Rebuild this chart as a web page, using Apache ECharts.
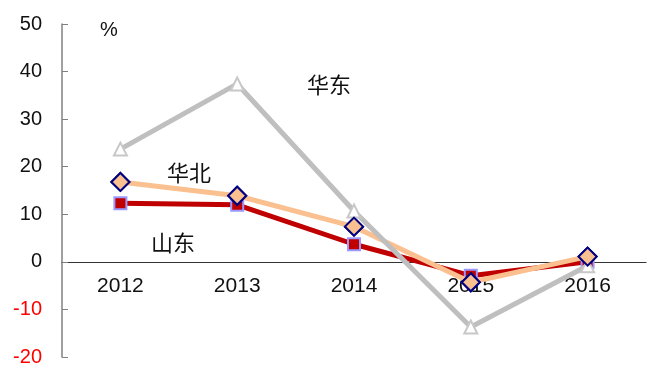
<!DOCTYPE html>
<html><head><meta charset="utf-8">
<script src="https://cdn.jsdelivr.net/npm/echarts@6/dist/echarts.min.js"></script>
<style>html,body{margin:0;padding:0;background:#fff}#c{width:647px;height:365px}</style>
</head><body><div id="c"></div>
<script>
const categories = ['2012','2013','2014','2015','2016'];
const huadong = [23.7, 37.4, 10.7, -13.7, -0.8];
const huabei = [16.8, 13.9, 7.4, -4.3, 1.1];
const shandong = [12.3, 12.0, 3.7, -2.9, 0.0];
const chart = echarts.init(document.getElementById('c'));
const font = 'Liberation Sans, Arial, sans-serif';
const cjk = '"Noto Sans CJK SC", sans-serif';
const gridTop = 24, gridBottom = 8, H = 365;
const yMin = -20, yMax = 50;
const plotH = H - gridTop - gridBottom;
const zeroOffset = -plotH * (0 - yMin) / (yMax - yMin);
chart.setOption({
  animation: false,
  grid: {left: 62, right: 1, top: gridTop, bottom: gridBottom, containLabel: false, outerBoundsMode: 'none'},
  xAxis: {
    type: 'category', data: categories, boundaryGap: true,
    offset: zeroOffset,
    axisLine: {onZero: false, lineStyle: {color: '#333', width: 1.2}},
    axisTick: {inside: true, length: 6, lineStyle: {color: '#333'}},
    axisLabel: {margin: 14, fontSize: 21, color: '#111', fontFamily: font}
  },
  yAxis: {
    type: 'value', min: yMin, max: yMax, interval: 10,
    splitLine: {show: false},
    axisLine: {show: true, lineStyle: {color: '#808080', width: 1.5}},
    axisTick: {show: true, inside: true, length: 6, lineStyle: {color: '#808080'}},
    axisLabel: {margin: 20, fontSize: 20, fontFamily: font,
      color: v => v < 0 ? '#ff0000' : '#111'}
  },
  graphic: [
    {type: 'text', left: 100, top: 20, style: {text: '%', fontSize: 20, fontFamily: font, fill: '#111'}},
    {type: 'text', left: 307, top: 74, style: {text: '华东', fontSize: 22, fontFamily: cjk, fill: '#111'}},
    {type: 'text', left: 167, top: 162, style: {text: '华北', fontSize: 22, fontFamily: cjk, fill: '#111'}},
    {type: 'text', left: 151, top: 232, style: {text: '山东', fontSize: 22, fontFamily: cjk, fill: '#111'}}
  ],
  series: [
    {name: '山东', type: 'line', data: shandong, z: 2,
     symbol: 'rect', symbolSize: 12,
     lineStyle: {color: '#C00000', width: 5},
     itemStyle: {color: '#C00000', borderColor: '#9999FF', borderWidth: 2}},
    {name: '华北', type: 'line', data: huabei, z: 3,
     symbol: 'diamond', symbolSize: 18,
     lineStyle: {color: '#FAC090', width: 5},
     itemStyle: {color: '#FAC090', borderColor: '#000080', borderWidth: 2}},
    {name: '华东', type: 'line', data: huadong, z: 4,
     symbol: 'triangle', symbolSize: 13,
     lineStyle: {color: '#BFBFBF', width: 5},
     itemStyle: {color: '#fff', borderColor: '#C8C8C8', borderWidth: 2}},
    {name: '华北点', type: 'line', data: huabei, z: 5,
     symbol: 'diamond', symbolSize: 18,
     lineStyle: {width: 0, opacity: 0},
     itemStyle: {color: '#FAC090', borderColor: '#000080', borderWidth: 2}}
  ]
});
</script></body></html>
